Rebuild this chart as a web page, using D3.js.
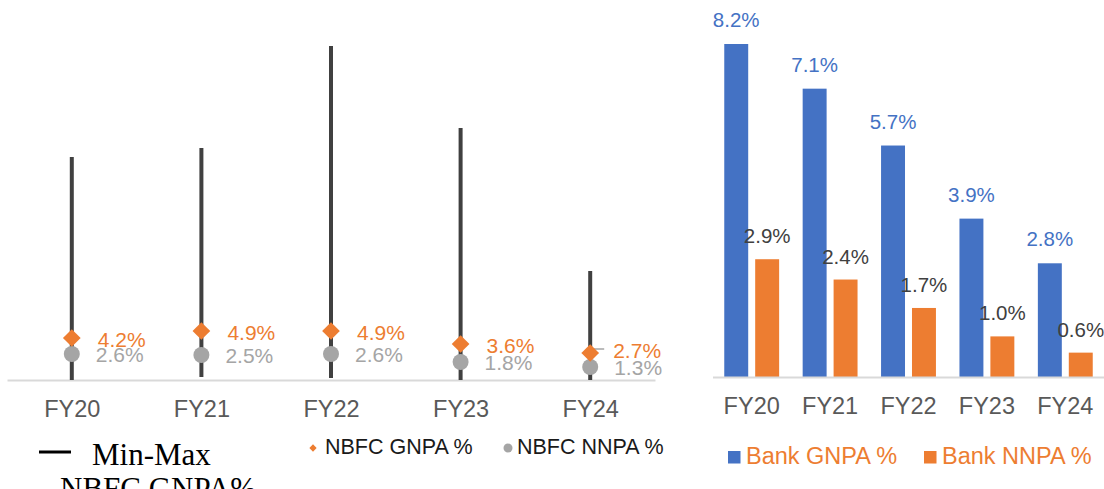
<!DOCTYPE html>
<html>
<head>
<meta charset="utf-8">
<script src="https://cdn.jsdelivr.net/npm/d3@7"></script>
<style>
  body { margin: 0; background: #fff; }
  svg { display: block; font-family: Arial, "Liberation Sans", sans-serif; }
</style>
</head>
<body>
<div id="chart"></div>
<script>
// data
var years = ["FY20", "FY21", "FY22", "FY23", "FY24"];
var nbfcMin = [0, 0.3, 0.2, 0, 0];
var nbfcMax = [22.3, 23.2, 33.4, 25.2, 10.9];
var nbfcGnpa = [4.2, 4.9, 4.9, 3.6, 2.7];
var nbfcNnpa = [2.6, 2.5, 2.6, 1.8, 1.3];
var bankGnpa = [8.2, 7.1, 5.7, 3.9, 2.8];
var bankNnpa = [2.9, 2.4, 1.7, 1.0, 0.6];

var blue = "#4472c4", orange = "#ed7d31", grey = "#a5a5a5";

var svg = d3.select("#chart").append("svg")
    .attr("width", 1104)
    .attr("height", 489);

// ---------- left chart: NBFC min-max with GNPA / NNPA markers ----------
var xL = d3.scalePoint().domain(years).range([7, 655]).padding(0.5);
var yL = d3.scaleLinear().domain([0, 35]).range([380, 30]);

var left = svg.append("g");

var axL = left.append("g")
    .attr("transform", "translate(0,380)")
    .call(d3.axisBottom(xL).tickSize(0).tickSizeOuter(0).tickPadding(20));
axL.select(".domain").attr("stroke", "#d9d9d9").attr("stroke-width", 2);
axL.selectAll("text").attr("font-size", 23.5).attr("fill", "#595959")
    .attr("font-family", "Arial, 'Liberation Sans', sans-serif");

// whiskers
left.selectAll(".whisker")
    .data(years)
    .enter().append("line")
    .attr("class", "whisker")
    .attr("x1", function (d) { return xL(d); })
    .attr("x2", function (d) { return xL(d); })
    .attr("y1", function (d, i) { return yL(nbfcMin[i]); })
    .attr("y2", function (d, i) { return yL(nbfcMax[i]); })
    .attr("stroke", "#404040")
    .attr("stroke-width", 4);

// leader line for the FY24 label (moved label in the original)
left.append("path")
    .attr("d", "M" + (xL("FY24") + 1) + "," + (yL(nbfcGnpa[4]) - 4) + "h13M" + (xL("FY24") + 1) + "," + (yL(nbfcGnpa[4]) - 4) + "v6")
    .attr("stroke", grey)
    .attr("stroke-width", 1.5)
    .attr("fill", "none");

// NNPA circles
left.selectAll(".nnpa")
    .data(years)
    .enter().append("circle")
    .attr("class", "nnpa")
    .attr("cx", function (d) { return xL(d); })
    .attr("cy", function (d, i) { return yL(nbfcNnpa[i]); })
    .attr("r", 8)
    .attr("fill", grey);

// GNPA diamonds
var diamond = d3.symbol().type(d3.symbolDiamond2).size(200);
left.selectAll(".gnpa")
    .data(years)
    .enter().append("path")
    .attr("class", "gnpa")
    .attr("d", diamond)
    .attr("transform", function (d, i) { return "translate(" + xL(d) + "," + yL(nbfcGnpa[i]) + ")"; })
    .attr("fill", orange);

left.selectAll(".gnpaLbl")
    .data(years)
    .enter().append("text")
    .attr("x", function (d, i) { return xL(d) + (i == 4 ? 23 : 26); })
    .attr("y", function (d, i) { return yL(nbfcGnpa[i]) + (i == 4 ? -2 : 2); })
    .attr("dy", "0.35em")
    .attr("font-size", 21)
    .attr("fill", orange)
    .text(function (d, i) { return nbfcGnpa[i].toFixed(1) + "%"; });

left.selectAll(".nnpaLbl")
    .data(years)
    .enter().append("text")
    .attr("x", function (d) { return xL(d) + 24; })
    .attr("y", function (d, i) { return yL(nbfcNnpa[i]) + 1; })
    .attr("dy", "0.35em")
    .attr("font-size", 21)
    .attr("fill", grey)
    .text(function (d, i) { return nbfcNnpa[i].toFixed(1) + "%"; });

// legends (left)
left.append("line")
    .attr("x1", 39).attr("x2", 71).attr("y1", 452).attr("y2", 452)
    .attr("stroke", "#000").attr("stroke-width", 3);
left.append("text")
    .attr("x", 92).attr("y", 465)
    .attr("font-family", "'Times New Roman', 'Liberation Serif', serif")
    .attr("font-size", 31)
    .text("Min-Max");
left.append("text")
    .attr("x", 60).attr("y", 499)
    .attr("font-family", "'Times New Roman', 'Liberation Serif', serif")
    .attr("font-size", 31)
    .text("NBFC GNPA%");

left.append("path")
    .attr("d", d3.symbol().type(d3.symbolDiamond2).size(34))
    .attr("transform", "translate(313,448)")
    .attr("fill", orange);
left.append("text")
    .attr("x", 325).attr("y", 454)
    .attr("font-size", 21.5)
    .attr("fill", "#1a1a1a")
    .text("NBFC GNPA %");
left.append("circle")
    .attr("cx", 508).attr("cy", 448).attr("r", 4.5)
    .attr("fill", grey);
left.append("text")
    .attr("x", 517).attr("y", 454)
    .attr("font-size", 21.5)
    .attr("fill", "#1a1a1a")
    .text("NBFC NNPA %");

// ---------- right chart: bank GNPA / NNPA bars ----------
var x0 = d3.scaleBand().domain(years).range([712.5, 1104.5])
    .paddingInner(0.3).paddingOuter(0.15);
var x1 = d3.scaleBand().domain(["g", "n"]).range([0, x0.bandwidth()])
    .paddingInner(0.2258);
var yR = d3.scaleLinear().domain([0, 8.2]).range([377, 44]);

var right = svg.append("g");

var groups = right.selectAll(".grp")
    .data(years)
    .enter().append("g")
    .attr("class", "grp")
    .attr("transform", function (d) { return "translate(" + x0(d) + ",0)"; });

groups.append("rect")
    .attr("x", x1("g"))
    .attr("width", x1.bandwidth())
    .attr("y", function (d, i) { return yR(bankGnpa[i]); })
    .attr("height", function (d, i) { return yR(0) - yR(bankGnpa[i]); })
    .attr("fill", blue);

groups.append("rect")
    .attr("x", x1("n"))
    .attr("width", x1.bandwidth())
    .attr("y", function (d, i) { return yR(bankNnpa[i]); })
    .attr("height", function (d, i) { return yR(0) - yR(bankNnpa[i]); })
    .attr("fill", orange);

groups.append("text")
    .attr("x", x1("g") + x1.bandwidth() / 2)
    .attr("y", function (d, i) { return yR(bankGnpa[i]) - 17; })
    .attr("text-anchor", "middle")
    .attr("font-size", 20.5)
    .attr("fill", blue)
    .text(function (d, i) { return bankGnpa[i].toFixed(1) + "%"; });

groups.append("text")
    .attr("x", x1("n") + x1.bandwidth() / 2)
    .attr("y", function (d, i) { return yR(bankNnpa[i]) - 16; })
    .attr("text-anchor", "middle")
    .attr("font-size", 20.5)
    .attr("fill", "#404040")
    .text(function (d, i) { return bankNnpa[i].toFixed(1) + "%"; });

var axR = right.append("g")
    .attr("transform", "translate(0,377)")
    .call(d3.axisBottom(x0).tickSize(0).tickSizeOuter(0).tickPadding(20));
axR.select(".domain").attr("stroke", "#d9d9d9").attr("stroke-width", 2);
axR.selectAll("text").attr("font-size", 23.5).attr("fill", "#595959")
    .attr("font-family", "Arial, 'Liberation Sans', sans-serif");

// legend (right)
var legR = [["Bank GNPA %", blue, 728, 746], ["Bank NNPA %", orange, 924, 942]];
legR.forEach(function (l) {
    right.append("rect")
        .attr("x", l[2]).attr("y", 451)
        .attr("width", 12.5).attr("height", 12.5)
        .attr("fill", l[1]);
    right.append("text")
        .attr("x", l[3]).attr("y", 464)
        .attr("font-size", 23.5)
        .attr("fill", orange)
        .text(l[0]);
});
</script>
</body>
</html>
